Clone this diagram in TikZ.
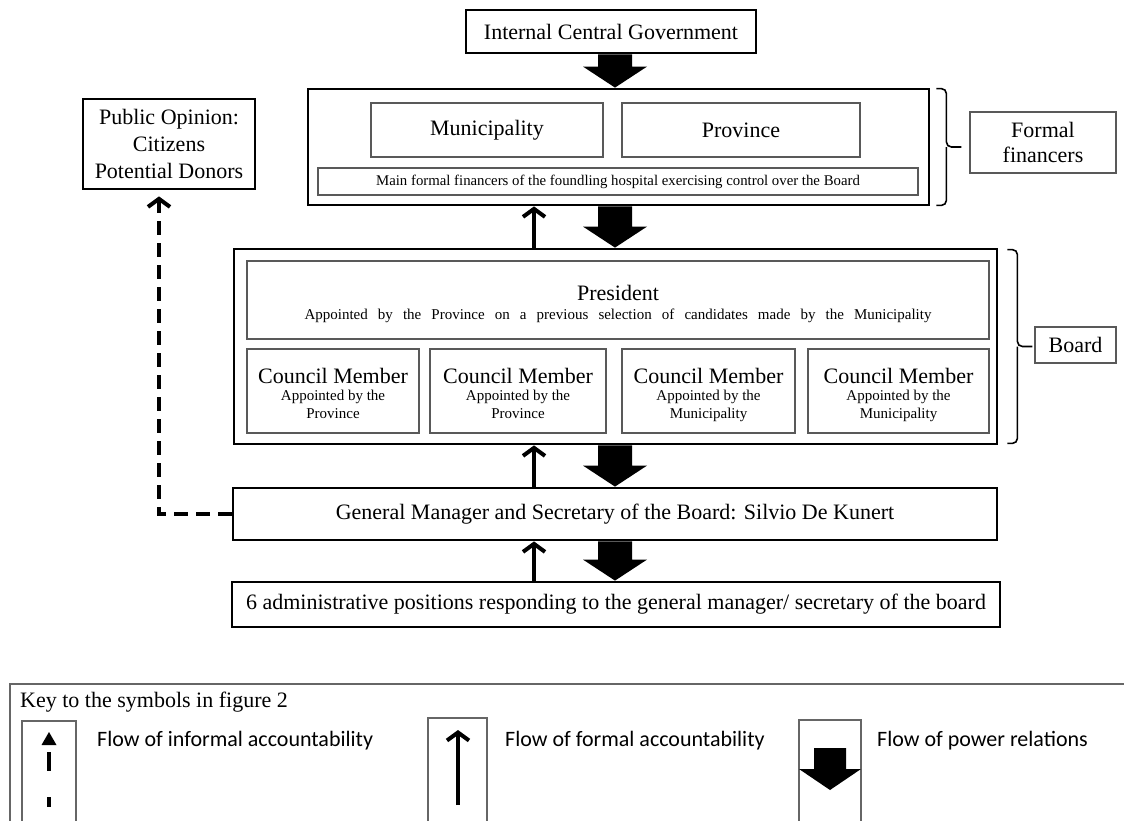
\documentclass[tikz,border=0pt]{standalone}
\usepackage{fontspec}
\setmainfont{Liberation Serif}
\newfontfamily\calfont{Carlito}
\usetikzlibrary{calc,arrows.meta}
\newcommand\szA{\fontsize{22pt}{27pt}\selectfont}
\newcommand\szFF{\fontsize{22pt}{25pt}\selectfont}
\newcommand\szB{\fontsize{15pt}{18pt}\selectfont}
\newcommand\szC{\fontsize{14.8pt}{17pt}\selectfont}
\newcommand\szK{\calfont\fontsize{22pt}{26pt}\selectfont}
\newcommand\powarrow[2]{%
  \fill[black] ($(px|-#1.south)+(-17,0)$) -- ($(px|-#2.north)+(-17,-21)$)
    -- ($(px|-#2.north)+(-32,-21)$) -- (px|-#2.north)
    -- ($(px|-#2.north)+(32,-21)$) -- ($(px|-#2.north)+(17,-21)$)
    -- ($(px|-#1.south)+(17,0)$) -- cycle;}
\begin{document}
\begin{tikzpicture}[x=1pt,y=-1pt,
  bigbox/.style={draw=black, line width=2.8pt, inner sep=0pt, align=center, font=\szA},
  smallbox/.style={draw=black!65, line width=1.4pt, inner sep=0pt, align=center, font=\szA},
  keybox/.style={draw=black!60, line width=1.2pt},
  formalarrow/.style={line width=4pt, -{Straight Barb[length=8pt,width=22pt]}},
  informalarrow/.style={line width=4pt, dash pattern=on 14pt off 8pt, -{Straight Barb[length=8pt,width=22pt]}},
  bracestyle/.style={line width=1.6pt, rounded corners=5pt},
  txt/.style={inner sep=0pt, anchor=base}
]
\useasboundingbox (0,0) rectangle (1124,820);

% top level
\node[bigbox, minimum width=290pt, minimum height=43pt] (icg) at (611,31.5) {Internal Central Government};
\node[bigbox, minimum width=621pt, minimum height=116pt] (fin) at (618.5,147) {};
\node[smallbox, minimum width=232pt, minimum height=54pt] (mun) at (487,130) {Municipality};
\node[smallbox, minimum width=238pt, minimum height=54pt] (prov) at (741,130) {Province};
\node[smallbox, minimum width=600pt, minimum height=27pt, font=\szC] (mainf) at (618,181.5) {Main formal financers of the foundling hospital exercising control over the Board};
\node[smallbox, minimum width=146pt, minimum height=61pt, font=\szFF] (ff) at (1043,142.5) {Formal\\financers};
\node[bigbox, minimum width=172pt, minimum height=90pt] (po) at (169,144) {Public Opinion:\\Citizens\\Potential Donors};

% board
\node[bigbox, minimum width=763pt, minimum height=195pt] (board) at (615.5,346.5) {};
\node[smallbox, minimum width=742pt, minimum height=78pt] (pres) at (618,300) {};
\node[txt, font=\szA] (prest) at (pres.center) {President};
\node[txt, font=\szB] (press) at ($(pres.center)+(0,19)$) {\makebox[627pt][s]{Appointed by the Province on a previous selection of candidates made by the Municipality}};
\foreach \n/\cx/\w/\who in {1/333/172/Province, 2/518/176/Province, 3/708.5/173/Municipality, 4/898.5/181/Municipality}{
  \node[smallbox, minimum width=\w pt, minimum height=84pt] (c\n) at (\cx,391) {};
  \node[txt, font=\szA] (c\n a) at ($(c\n.center)+(0,-8)$) {Council Member};
  \node[txt, font=\szB] (c\n b) at ($(c\n.center)+(0,9.5)$) {Appointed by the};
  \node[txt, font=\szB] (c\n c) at ($(c\n.center)+(0,27.5)$) {\who};
}
\node[smallbox, minimum width=81pt, minimum height=36pt] (bl) at (1075.5,345) {Board};

% management
\node[bigbox, minimum width=764pt, minimum height=52pt] (gm) at (615,514) {General Manager and Secretary of the Board: Silvio De Kunert};
\node[bigbox, minimum width=768pt, minimum height=45pt] (adm) at (616,604.5) {6 administrative positions responding to the general manager/ secretary of the board};

% connectors
\coordinate (px) at (615,0);
\coordinate (fx) at (534,0);
\coordinate (dx) at (159,0);
\powarrow{icg}{fin}
\powarrow{fin}{board}
\powarrow{board}{gm}
\powarrow{gm}{adm}
\draw[formalarrow] (fx|-board.north) -- (fx|-fin.south);
\draw[formalarrow] (fx|-gm.north) -- (fx|-board.south);
\draw[formalarrow] (fx|-adm.north) -- (fx|-gm.south);
\draw[informalarrow] (gm.west) -| ($(dx|-po.south)+(0,6)$);

% braces
\draw[bracestyle] ($(fin.north east)+(6,1)$) -| ($(fin.east)+(16,0)$) -- ($(ff.west|-fin.east)+(-8,0)$);
\draw[bracestyle] ($(fin.south east)+(6,-1)$) -| ($(fin.east)+(16,0)$);
\draw[bracestyle] ($(board.north east)+(9,2)$) -| ($(board.east)+(19,0)$) -- ($(bl.west|-board.east)+(-2,0)$);
\draw[bracestyle] ($(board.south east)+(9,-2)$) -| ($(board.east)+(19,0)$);

% key
\draw[keybox] (10,684) rectangle (1130,830);
\node[inner sep=0pt, anchor=base west, font=\szA] (key) at (20,707) {Key to the symbols in figure 2};
\draw[keybox] (22,721) rectangle (76,830);
\draw[keybox] (428,718) rectangle (487,830);
\draw[keybox] (799,720) rectangle (861,830);
\fill (41.5,745) -- (49,732) -- (56.5,745) -- cycle;
\draw[line width=4pt] (49,752) -- (49,771);
\draw[line width=4pt] (49,797) -- (49,807);
\draw[formalarrow] (458,805) -- (458,730);
\fill (814,748) -- (814,769) -- (799,769) -- (830,790) -- (861,769) -- (846,769) -- (846,748) -- cycle;
\node[inner sep=0pt, anchor=base west, font=\szK] (k1) at (97,746) {Flow of informal accountability};
\node[inner sep=0pt, anchor=base west, font=\szK] (k2) at (505,746) {Flow of formal accountability};
\node[inner sep=0pt, anchor=base west, font=\szK] (k3) at (877,746) {Flow of power relations};
\end{tikzpicture}
\end{document}
